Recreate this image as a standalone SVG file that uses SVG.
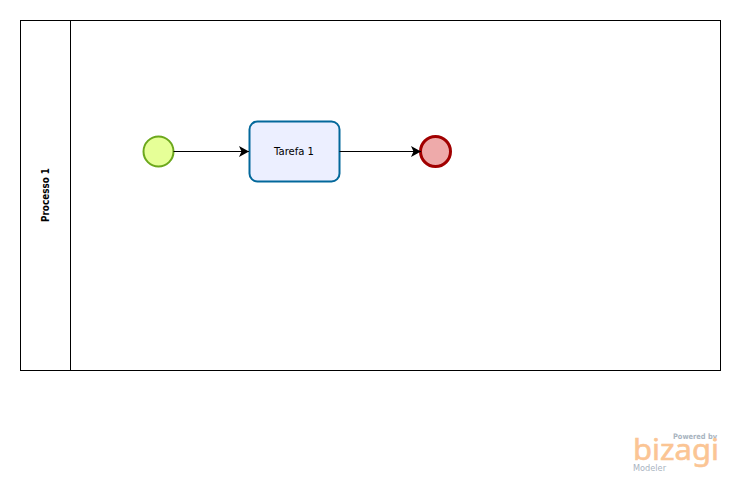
<svg xmlns="http://www.w3.org/2000/svg" width="740" height="483" viewBox="0 0 740 483">
<style>
text{font-family:"DejaVu Sans",Verdana,sans-serif;fill:#000}
.conn{fill:none;stroke:#000;stroke-width:1}
</style>
<defs>
<marker id="arrow" markerUnits="userSpaceOnUse" markerWidth="11" markerHeight="12" refX="10" refY="6" orient="auto">
<path d="M0 .5L10 6L0 11.5L2.5 6Z" fill="#000"/>
</marker>
</defs>
<rect width="740" height="483" fill="#fff"/>
<g id="pool">
<rect x="20.5" y="20.5" width="700" height="350" fill="#fff" stroke="#000"/>
<line x1="70.5" y1="20.5" x2="70.5" y2="370.5" stroke="#000"/>
<text transform="translate(49 222) rotate(-90)" font-size="10.5" font-weight="bold" textLength="54" lengthAdjust="spacingAndGlyphs">Processo 1</text>
</g>
<g id="start">
<circle cx="158.5" cy="151.5" r="15" fill="#e6ff97" stroke="#6ca81c" stroke-width="2"/>
</g>
<g id="task">
<rect x="249.5" y="121.5" width="90" height="60" rx="8" fill="#ecefff" stroke="#03689b" stroke-width="2"/>
<text x="274" y="155" font-size="10.5" textLength="40" lengthAdjust="spacingAndGlyphs">Tarefa 1</text>
</g>
<g id="end">
<circle cx="435.5" cy="151.5" r="15" fill="#eeaaaa" stroke="#a10000" stroke-width="3"/>
</g>
<g id="connectors">
<line class="conn" x1="173.5" y1="151.5" x2="249" y2="151.5" marker-end="url(#arrow)"/>
<line class="conn" x1="339.5" y1="151.5" x2="421" y2="151.5" marker-end="url(#arrow)"/>
</g>
<g id="logo">
<text x="673" y="438.5" font-size="7.5" font-weight="bold" textLength="44" lengthAdjust="spacingAndGlyphs" style="fill:#a9b4bf">Powered by</text>
<text x="633" y="460" font-size="29" textLength="86" lengthAdjust="spacingAndGlyphs" style="font-family:'Noto Sans',sans-serif;fill:#fbc594;stroke:#fbc594;stroke-width:.6">bizagi</text>
<text x="633" y="471" font-size="8.5" textLength="33" lengthAdjust="spacingAndGlyphs" style="fill:#a9b4bf">Modeler</text>
</g>
</svg>
